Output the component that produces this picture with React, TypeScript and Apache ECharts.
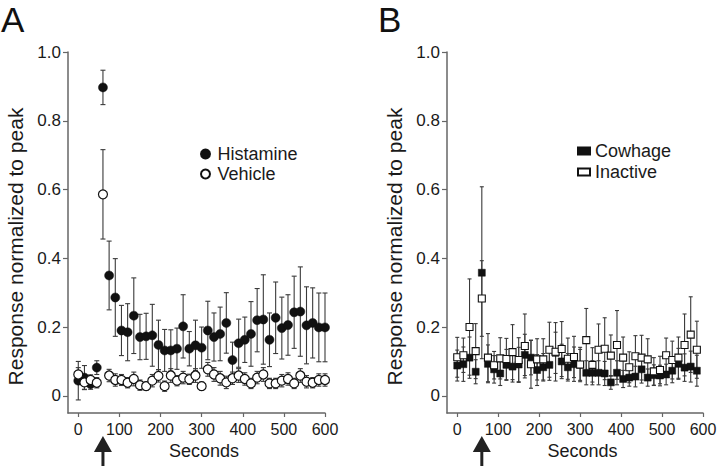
import React, { useEffect, useRef } from "react";
import * as echarts from "echarts";

// ---- Panel A data (seconds, 15 s bins) ----
const timesA = [0, 15, 30, 45, 60, 75, 90, 105, 120, 135, 150, 165, 180, 195, 210, 225, 240, 255, 270, 285, 300, 315, 330, 345, 360, 375, 390, 405, 420, 435, 450, 465, 480, 495, 510, 525, 540, 555, 570, 585, 600];
const histamine = [0.044, 0.053, 0.034, 0.082, 0.897, 0.35, 0.286, 0.19, 0.185, 0.233, 0.171, 0.173, 0.176, 0.148, 0.132, 0.132, 0.137, 0.202, 0.137, 0.147, 0.14, 0.19, 0.171, 0.18, 0.212, 0.104, 0.153, 0.163, 0.18, 0.22, 0.222, 0.163, 0.227, 0.197, 0.206, 0.243, 0.245, 0.205, 0.212, 0.199, 0.199];
const histamineErr = [0.056, 0.035, 0.015, 0.02, 0.05, 0.1, 0.113, 0.073, 0.083, 0.11, 0.066, 0.067, 0.09, 0.072, 0.061, 0.06, 0.06, 0.092, 0.05, 0.073, 0.06, 0.085, 0.07, 0.078, 0.088, 0.052, 0.07, 0.066, 0.094, 0.092, 0.13, 0.078, 0.104, 0.09, 0.088, 0.105, 0.13, 0.112, 0.102, 0.1, 0.1];
const vehicle = [0.062, 0.039, 0.046, 0.038, 0.586, 0.059, 0.046, 0.046, 0.038, 0.049, 0.031, 0.028, 0.044, 0.058, 0.028, 0.059, 0.044, 0.053, 0.048, 0.059, 0.028, 0.077, 0.062, 0.051, 0.039, 0.051, 0.059, 0.049, 0.036, 0.053, 0.062, 0.036, 0.036, 0.044, 0.049, 0.036, 0.059, 0.041, 0.038, 0.046, 0.046];
const vehicleErr = [0.02, 0.02, 0.015, 0.015, 0.13, 0.018, 0.018, 0.016, 0.015, 0.02, 0.015, 0.012, 0.018, 0.018, 0.015, 0.02, 0.015, 0.018, 0.015, 0.02, 0.012, 0.02, 0.02, 0.02, 0.018, 0.018, 0.02, 0.018, 0.015, 0.018, 0.02, 0.015, 0.015, 0.018, 0.018, 0.015, 0.02, 0.018, 0.015, 0.018, 0.018];

// ---- Panel B data ----
const timesB = [0, 15, 30, 45, 60, 75, 90, 105, 120, 135, 150, 165, 180, 195, 210, 225, 240, 255, 270, 285, 300, 315, 330, 345, 360, 375, 390, 405, 420, 435, 450, 465, 480, 495, 510, 525, 540, 555, 570, 585];
const cowhage = [0.088, 0.092, 0.111, 0.07, 0.358, 0.093, 0.077, 0.065, 0.09, 0.085, 0.091, 0.119, 0.111, 0.075, 0.083, 0.09, 0.125, 0.1, 0.083, 0.092, 0.09, 0.067, 0.067, 0.067, 0.065, 0.039, 0.067, 0.049, 0.053, 0.056, 0.077, 0.053, 0.06, 0.059, 0.062, 0.073, 0.093, 0.082, 0.085, 0.073];
const cowhageErr = [0.045, 0.05, 0.06, 0.035, 0.25, 0.055, 0.04, 0.035, 0.045, 0.045, 0.05, 0.06, 0.05, 0.045, 0.04, 0.045, 0.06, 0.05, 0.04, 0.05, 0.045, 0.035, 0.035, 0.035, 0.035, 0.02, 0.035, 0.025, 0.025, 0.03, 0.04, 0.025, 0.03, 0.03, 0.03, 0.035, 0.045, 0.04, 0.045, 0.045];
const inactive = [0.112, 0.118, 0.2, 0.13, 0.283, 0.111, 0.089, 0.109, 0.107, 0.127, 0.104, 0.145, 0.092, 0.106, 0.106, 0.134, 0.128, 0.136, 0.108, 0.113, 0.091, 0.162, 0.09, 0.134, 0.137, 0.117, 0.148, 0.111, 0.083, 0.115, 0.111, 0.106, 0.071, 0.075, 0.118, 0.104, 0.111, 0.148, 0.178, 0.134];
const inactiveErr = [0.058, 0.05, 0.14, 0.08, 0.11, 0.07, 0.04, 0.06, 0.06, 0.08, 0.065, 0.093, 0.07, 0.06, 0.06, 0.08, 0.085, 0.08, 0.06, 0.06, 0.05, 0.092, 0.05, 0.075, 0.09, 0.06, 0.1, 0.06, 0.045, 0.06, 0.065, 0.06, 0.04, 0.04, 0.05, 0.055, 0.06, 0.09, 0.11, 0.083];

const xTicks = [0, 100, 200, 300, 400, 500, 600];
const yTicks = [0, 0.2, 0.4, 0.6, 0.8, 1.0];
const stimulusTime = 60;

const FONT = "Liberation Sans, Arial, Helvetica, sans-serif";
const AXIS_COLOR = "#666";
const TEXT_COLOR = "#1a1a1a";
const BAR_COLOR = "#3a3a3a";

function triples(t: number[], v: number[], e: number[]) {
  return t.map((x, i) => [x, v[i], e[i]]);
}

function errorSeries(name: string, idx: number, data: number[][], cap: number) {
  return {
    type: "custom",
    name,
    xAxisIndex: idx,
    yAxisIndex: idx,
    z: 1,
    silent: true,
    data,
    encode: { x: 0, y: 1 },
    renderItem: (params: any, api: any) => {
      const x = api.value(0);
      const y = api.value(1);
      const e = api.value(2);
      const top = api.coord([x, y + e]);
      const bot = api.coord([x, y - e]);
      const st = { stroke: BAR_COLOR, lineWidth: 1.1 };
      return {
        type: "group",
        children: [
          { type: "line", shape: { x1: top[0], y1: top[1], x2: bot[0], y2: bot[1] }, style: st },
          { type: "line", shape: { x1: top[0] - cap, y1: top[1], x2: top[0] + cap, y2: top[1] }, style: st },
          { type: "line", shape: { x1: bot[0] - cap, y1: bot[1], x2: bot[0] + cap, y2: bot[1] }, style: st },
        ],
      };
    },
  };
}

function xAxisFor(idx: number) {
  return {
    type: "value",
    gridIndex: idx,
    min: -25,
    max: 600,
    name: "Seconds",
    nameLocation: "middle",
    nameGap: 27,
    nameTextStyle: { fontFamily: FONT, fontSize: 18, color: TEXT_COLOR, padding: [0, 0, 0, 15] },
    splitLine: { show: false },
    axisLine: { show: true, onZero: false, lineStyle: { color: AXIS_COLOR, width: 1.5 } },
    axisTick: { show: true, length: 4, customValues: xTicks, lineStyle: { color: AXIS_COLOR, width: 1.2 } },
    axisLabel: {
      customValues: xTicks,
      fontFamily: FONT,
      fontSize: 16,
      color: TEXT_COLOR,
      margin: 8,
    },
  };
}

function yAxisFor(idx: number) {
  return {
    type: "value",
    gridIndex: idx,
    min: -0.05,
    max: 1.0,
    name: "Response normalized to peak",
    nameLocation: "middle",
    nameGap: 42,
    nameTextStyle: { fontFamily: FONT, fontSize: 21, color: TEXT_COLOR, padding: [0, 28, 0, 0] },
    splitLine: { show: false },
    axisLine: { show: true, onZero: false, lineStyle: { color: AXIS_COLOR, width: 1.5 } },
    axisTick: { show: true, length: 5, customValues: yTicks, lineStyle: { color: AXIS_COLOR, width: 1.2 } },
    axisLabel: {
      customValues: yTicks,
      fontFamily: FONT,
      fontSize: 17,
      color: TEXT_COLOR,
      margin: 7,
      formatter: (v: number) => (v === 0 ? "0" : v.toFixed(1)),
    },
  };
}

export default function App() {
  const ref = useRef<HTMLDivElement>(null);

  useEffect(() => {
    if (!ref.current) return;
    const chart = echarts.init(ref.current, null, { renderer: "svg" });

    const option: any = {
      animation: false,
      backgroundColor: "#ffffff",
      grid: [
        { left: 68, top: 52, width: 257, height: 361 },
        { left: 447, top: 52, width: 256, height: 361 },
      ],
      xAxis: [xAxisFor(0), xAxisFor(1)],
      yAxis: [yAxisFor(0), yAxisFor(1)],
      legend: [
        {
          data: ["Histamine", "Vehicle"],
          orient: "vertical",
          left: 195,
          top: 140,
          itemWidth: 14,
          itemHeight: 9,
          itemGap: 2,
          selectedMode: false,
          textStyle: { fontFamily: FONT, fontSize: 18, color: TEXT_COLOR, lineHeight: 18 },
        },
        {
          data: ["Cowhage", "Inactive"],
          orient: "vertical",
          left: 572,
          top: 137,
          itemWidth: 12,
          itemHeight: 7,
          itemGap: 3,
          selectedMode: false,
          textStyle: { fontFamily: FONT, fontSize: 18, color: TEXT_COLOR, lineHeight: 18 },
        },
      ],
      series: [
        errorSeries("histErr", 0, triples(timesA, histamine, histamineErr), 2.5),
        errorSeries("vehErr", 0, triples(timesA, vehicle, vehicleErr), 2.5),
        {
          type: "scatter",
          name: "Histamine",
          xAxisIndex: 0,
          yAxisIndex: 0,
          z: 3,
          symbol: "circle",
          symbolSize: 9,
          itemStyle: { color: "#111", borderColor: "#111", borderWidth: 0.5, opacity: 1 },
          data: timesA.map((t, i) => [t, histamine[i]]),
        },
        {
          type: "scatter",
          name: "Vehicle",
          xAxisIndex: 0,
          yAxisIndex: 0,
          z: 4,
          symbol: "circle",
          symbolSize: 9,
          itemStyle: { color: "#ffffff", borderColor: "#111", borderWidth: 1.2, opacity: 1 },
          data: timesA.map((t, i) => [t, vehicle[i]]),
        },
        errorSeries("cowErr", 1, triples(timesB, cowhage, cowhageErr), 2),
        errorSeries("inaErr", 1, triples(timesB, inactive, inactiveErr), 2),
        {
          type: "scatter",
          name: "Cowhage",
          xAxisIndex: 1,
          yAxisIndex: 1,
          z: 3,
          symbol: "rect",
          symbolSize: 7,
          itemStyle: { color: "#111", borderColor: "#111", borderWidth: 0.5, opacity: 1 },
          data: timesB.map((t, i) => [t, cowhage[i]]),
        },
        {
          type: "scatter",
          name: "Inactive",
          xAxisIndex: 1,
          yAxisIndex: 1,
          z: 4,
          symbol: "rect",
          symbolSize: 7,
          itemStyle: { color: "#ffffff", borderColor: "#111", borderWidth: 1.1, opacity: 1 },
          data: timesB.map((t, i) => [t, inactive[i]]),
        },
      ],
    };

    chart.setOption(option);

    // Stimulus arrows under each panel, placed at t = 60 s through the axis scale
    const arrows: any[] = [];
    [0, 1].forEach((g) => {
      const p = chart.convertToPixel({ xAxisIndex: g, yAxisIndex: g } as any, [stimulusTime, 0]) as number[];
      const x = p[0];
      arrows.push({
        type: "polygon",
        shape: { points: [[x - 9, 452], [x, 436], [x + 9, 452]] },
        style: { fill: "#222" },
        silent: true,
      });
      arrows.push({
        type: "rect",
        shape: { x: x - 1.5, y: 451, width: 3, height: 15 },
        style: { fill: "#222" },
        silent: true,
      });
    });

    chart.setOption({
      graphic: [
        {
          type: "text",
          left: 1,
          top: 2,
          style: { text: "A", fontFamily: FONT, fontSize: 35, fill: "#111" },
        },
        {
          type: "text",
          left: 378,
          top: 2,
          style: { text: "B", fontFamily: FONT, fontSize: 35, fill: "#111" },
        },
        ...arrows,
      ],
    });

    return () => chart.dispose();
  }, []);

  return (
    <div
      ref={ref}
      style={{ position: "fixed", left: 0, top: 0, width: 720, height: 466, background: "#fff" }}
    />
  );
}
